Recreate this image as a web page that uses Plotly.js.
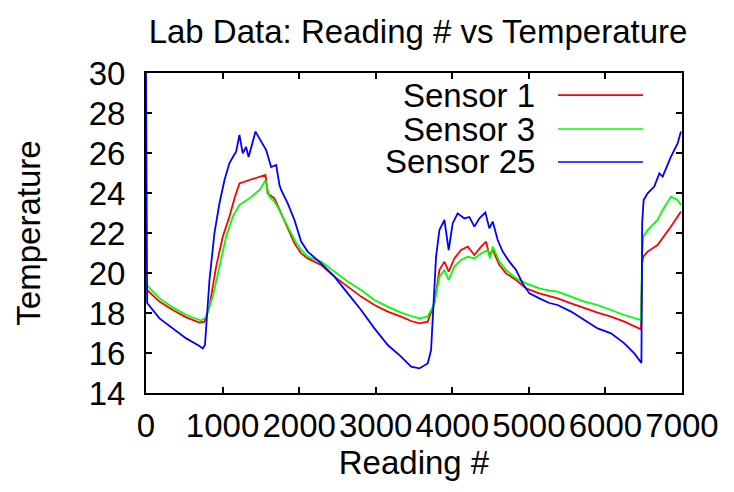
<!DOCTYPE html>
<html>
<head>
<meta charset="utf-8">
<script src="https://cdn.plot.ly/plotly-3.0.1.min.js"></script>
<style>html,body{margin:0;padding:0;background:#fff;}#chart{width:734px;height:492px;}</style>
</head>
<body>
<div id="chart"></div>
<script>
const seriesNames = ['Sensor 1', 'Sensor 3', 'Sensor 25'];
const seriesColors = ['#ff0000', '#00ff00', '#0000ff'];

const reading1 = [0,176,350,525,698,764,829,916,1003,1090,1155,1220,1351,1482,1560,1590,1678,1765,1851,1939,2026,2112,2287,2461,2635,2809,2983,3157,3331,3462,3570,3679,3766,3832,3897,3953,4027,4115,4202,4289,4376,4441,4484,4528,4615,4702,4833,4963,5137,5268,5376,5551,5725,5898,6073,6247,6465,6480,6495,6551,6681,6747,6856,6943,6986];
const temp1 = [19.2,18.57,18.15,17.78,17.52,17.57,18.32,20.32,21.82,22.82,23.73,24.48,24.65,24.82,24.9,23.98,23.73,22.98,22.23,21.48,20.98,20.73,20.4,19.82,19.32,18.82,18.4,18.07,17.82,17.6,17.48,17.57,18.48,20.15,20.57,20.07,20.73,21.15,21.32,20.9,21.32,21.57,20.9,21.15,20.4,19.98,19.65,19.23,18.98,18.85,18.73,18.48,18.23,18.02,17.82,17.57,17.18,20.5,20.82,21.07,21.4,21.73,22.32,22.82,23.07];

const reading3 = [0,20,176,350,525,720,786,872,960,1047,1133,1220,1351,1482,1560,1612,1678,1765,1851,1939,2026,2112,2287,2461,2635,2809,2983,3157,3331,3462,3570,3679,3766,3832,3897,3953,4027,4115,4202,4289,4376,4462,4494,4528,4615,4702,4833,4963,5137,5268,5376,5551,5725,5898,6073,6247,6465,6480,6495,6551,6681,6747,6856,6943,6986];
const temp3 = [19.6,19.35,18.73,18.28,17.9,17.62,17.82,18.82,20.32,21.82,22.82,23.4,23.73,24.15,24.62,23.82,23.57,22.98,22.32,21.65,21.15,20.82,20.57,20.07,19.57,19.15,18.65,18.32,18.02,17.85,17.73,17.82,18.48,19.82,20.15,19.65,20.32,20.65,20.82,20.73,20.98,21.15,20.73,21.32,20.57,20.15,19.73,19.48,19.23,19.12,19.07,18.82,18.57,18.4,18.15,17.9,17.65,21.0,21.82,22.15,22.65,23.15,23.82,23.65,23.4];

const reading25 = [0,15,176,350,525,698,742,770,829,894,960,1025,1090,1150,1177,1220,1264,1307,1340,1430,1504,1569,1634,1700,1743,1765,1851,1939,2026,2112,2287,2461,2635,2809,2983,3157,3331,3462,3570,3679,3723,3753,3788,3832,3897,3953,4005,4070,4158,4223,4289,4354,4432,4484,4528,4593,4658,4745,4833,4919,5007,5137,5268,5376,5551,5725,5898,6073,6247,6377,6470,6480,6499,6551,6638,6704,6747,6856,6943,6986];
const temp25 = [30,18.5,17.73,17.23,16.73,16.35,16.23,16.4,19.65,22.0,23.5,24.65,25.5,25.9,26.07,26.9,25.98,26.3,25.8,27.07,26.57,26.15,25.3,25.4,24.4,24.15,23.48,22.65,21.57,21.07,20.48,19.82,18.98,18.15,17.23,16.4,15.82,15.32,15.23,15.48,16.15,18.48,20.82,22.15,22.65,21.15,22.48,22.98,22.73,22.8,22.32,22.73,23.02,22.23,22.57,21.65,21.07,20.57,20.15,19.48,18.98,18.73,18.5,18.4,18.07,17.65,17.23,16.98,16.48,15.98,15.5,22.5,23.65,23.98,24.32,24.98,24.82,25.82,26.48,27.07];

const xTicks = [0,1000,2000,3000,4000,5000,6000,7000];
const yTicks = [14,16,18,20,22,24,26,28,30];

const xs = [reading1, reading3, reading25];
const ys = [temp1, temp3, temp25];

const FONT = 'Liberation Sans, Arial, sans-serif';
const FS = 33;

const traces = seriesNames.map((n, i) => ({
  type: 'scatter', mode: 'lines', name: n,
  x: xs[i], y: ys[i],
  line: {color: seriesColors[i], width: 1.8},
  showlegend: false
}));

// gnuplot-style key: text right-aligned, line sample to its right
const keyY = [0.931, 0.825, 0.722];
const annotations = seriesNames.map((n, i) => ({
  xref: 'paper', yref: 'paper', x: 0.7295, y: keyY[i],
  xanchor: 'right', yanchor: 'middle', showarrow: false,
  text: n, font: {family: FONT, size: FS, color: '#000'}
}));
const shapes = seriesNames.map((n, i) => ({
  type: 'line', xref: 'paper', yref: 'paper',
  x0: 0.7687, x1: 0.9272, y0: keyY[i], y1: keyY[i],
  line: {color: seriesColors[i], width: 1.6}
}));

const axisCommon = {
  showline: true, linecolor: '#000', linewidth: 2, mirror: 'ticks',
  ticks: 'inside', ticklen: 6, tickwidth: 2, tickcolor: '#000',
  showgrid: false, zeroline: false,
  tickfont: {family: FONT, size: FS, color: '#000'}
};

const layout = {
  width: 734, height: 492,
  paper_bgcolor: '#fff', plot_bgcolor: '#fff',
  margin: {l: 146, r: 52, t: 73, b: 99},
  title: {
    text: 'Lab Data: Reading # vs Temperature',
    font: {family: FONT, size: FS, color: '#000'},
    xref: 'container', x: 0.5695, xanchor: 'center',
    yref: 'container', y: 0.937, yanchor: 'middle'
  },
  xaxis: Object.assign({}, axisCommon, {
    range: [0, 7000], tickvals: xTicks, ticktext: xTicks.map(String),
    ticklabelstandoff: 2,
    title: {text: 'Reading #', font: {family: FONT, size: FS, color: '#000'}, standoff: 6}
  }),
  yaxis: Object.assign({}, axisCommon, {
    range: [14, 30], tickvals: yTicks, ticktext: yTicks.map(String),
    ticklabelstandoff: 12,
    title: {text: 'Temperature', font: {family: FONT, size: FS, color: '#000'}, standoff: 38}
  }),
  annotations: annotations,
  shapes: shapes,
  showlegend: false
};

Plotly.newPlot('chart', traces, layout, {displayModeBar: false, staticPlot: true});
</script>
</body>
</html>
